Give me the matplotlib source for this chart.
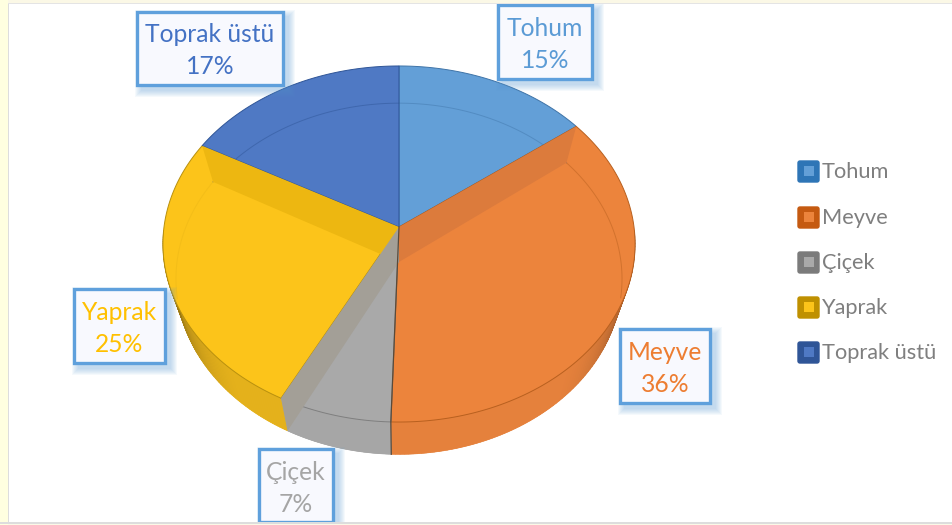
#!/usr/bin/env python3
"""3D style pie chart - bitki kisimlari"""
import numpy as np
import matplotlib
matplotlib.use("Agg")
import matplotlib.pyplot as plt
from matplotlib.colors import to_rgb
from matplotlib.patches import Polygon, Rectangle, FancyBboxPatch

categories = ["Tohum", "Meyve", "Çiçek", "Yaprak", "Toprak üstü"]
values = [14.7, 35.8, 7.1, 25.4, 17.0]

top_colors = ["#639FD7", "#EC843C", "#A9A9A9", "#FCC41A", "#4F79C4"]
wall_colors = ["#5A8FC2", "#DC7B3C", "#A39F97", "#EDB711", "#4A6FB5"]
front_colors = ["#5A8FC2", "#E5813C", "#A6A6A6", "#E4B11C", "#4A6FB5"]
edge_colors = ["#3F74A8", "#B8601F", "#7F7F7F", "#B8900F", "#2F5597"]
ring_alpha = [0.45, 0.5, 0.3, 0.12, 0.5]
legend_dark = ["#2E75B6", "#C55A11", "#7B7B7B", "#BF9000", "#2F5597"]
label_colors = ["#5B9BD5", "#ED7D31", "#A5A5A5", "#FFC000", "#4472C4"]

# box of each data label: left, top, right, bottom (px)
label_boxes = [(498, 5, 592, 79), (620, 329, 710, 403), (259, 449, 333, 522),
               (74, 289, 165, 363), (137, 12, 283, 85)]
legend_y = [171, 217, 262, 307, 352]

plt.rcParams['font.family'] = ['Lato', 'DejaVu Sans']

fig = plt.figure(figsize=(9.52, 5.25), dpi=100)
ax = fig.add_axes([0, 0, 1, 1])
ax.set_xlim(0, 952)
ax.set_ylim(525, 0)
ax.axis('off')


def project(theta, frac=1.0, bottom=False):
    """Angle clockwise from 12 o'clock -> pixel position with a bit of perspective"""
    u = frac * np.sin(theta)
    v = frac * np.cos(theta)
    w = 1 + 0.0955 * v
    if bottom:
        return 399 + 222 * u / w, 262 - 174 * v / w
    return 399 + 235 * u / w, 227 - 176.4 * v / w


def arc(a, b, frac=1.0, bottom=False):
    t = np.linspace(a, b, 120)
    x, y = project(t, frac, bottom)
    return np.column_stack([x, y])


fracs = np.cumsum([0] + values) / sum(values) * 2 * np.pi
apex_top = np.array([399, 227])
apex_bot = np.array([399, 262])

# bottom disk, seen through the slices
for i in range(len(values)):
    pts = np.vstack([apex_bot, arc(fracs[i], fracs[i + 1], bottom=True)])
    ax.add_patch(Polygon(pts, closed=True, fc=top_colors[i], ec='none', zorder=1))

# outer wall, only the front half shows. Gets darker towards the sides
front_a, front_b = np.pi / 2 + 0.02, 3 * np.pi / 2 - 0.02
for i in range(len(values)):
    a = max(fracs[i], front_a)
    b = min(fracs[i + 1], front_b)
    if b <= a:
        continue
    t = np.linspace(a, b, 90)
    base = np.array(to_rgb(front_colors[i]))
    for t0, t1 in zip(t[:-1], t[1:]):
        upper = np.column_stack(project(np.array([t0, t1])))
        lower = np.column_stack(project(np.array([t1, t0]), bottom=True))
        side = abs(((t0 + t1) / 2 - np.pi) / (np.pi / 2))
        shade = 1 - 0.6 * max(0, side - 0.45) ** 1.5 / 0.55 ** 1.5
        col = tuple(base * shade)
        ax.add_patch(Polygon(np.vstack([upper, lower]), closed=True, fc=col, ec=col,
                             lw=0.4, zorder=2))

# top faces
for i in range(len(values)):
    pts = np.vstack([apex_top, arc(fracs[i], fracs[i + 1])])
    ax.add_patch(Polygon(pts, closed=True, fc=top_colors[i], ec=edge_colors[i],
                         lw=0.7, zorder=3))

# rim of the bottom disk showing through
for i in range(len(values)):
    pts = arc(fracs[i], fracs[i + 1], bottom=True)
    keep = (pts[:, 1] < 300)
    ax.plot(pts[keep, 0], pts[keep, 1], color=edge_colors[i], lw=0.7,
            alpha=ring_alpha[i], zorder=4)

# inner cut walls between slices, gray one has to stay on top of the yellow one
walls = [(3, fracs[4]), (1, fracs[1]), (2, fracs[3])]
for i, ang in walls:
    x0, y0 = project(ang)
    x1, y1 = project(ang, bottom=True)
    pts = [apex_top, (x0, y0), (x1, y1), apex_bot]
    ax.add_patch(Polygon(pts, closed=True, fc=wall_colors[i], ec='none', zorder=4))

# line between Meyve and Cicek
x0, y0 = project(fracs[2])
x1, y1 = project(fracs[2], bottom=True)
ax.plot([399, x0, x1], [227, y0, y1], color="#5a4a3a", lw=0.9, zorder=5)

# data labels with soft shadow
for i, (l, t, r, b) in enumerate(label_boxes):
    for k in range(7, 0, -1):
        ax.add_patch(Rectangle((l + 5 - k, t + 5 - k), r - l + 2 * k, b - t + 2 * k,
                               fc="#5B9BD5", ec='none', alpha=0.06, zorder=6))
    ax.add_patch(Rectangle((l, t), r - l, b - t, fc="#F8F9FE", ec="#5FA0DC", lw=2.4, zorder=7))
    mid = (l + r) / 2
    ax.text(mid, t + 23, categories[i], color=label_colors[i], fontsize=17.7,
            ha='center', va='center', zorder=8)
    ax.text(mid, t + 55, f"{values[i]:.0f}%", color=label_colors[i], fontsize=17.7,
            ha='center', va='center', zorder=8)

# legend
for i, name in enumerate(categories):
    y = legend_y[i]
    ax.add_patch(FancyBboxPatch((798, y - 10), 21, 21, boxstyle="round,pad=0,rounding_size=2",
                                fc=legend_dark[i], ec=legend_dark[i], lw=1, zorder=3))
    ax.add_patch(Rectangle((804, y - 5), 10, 10, fc=top_colors[i], ec='none', zorder=4))
    ax.text(822, y + 1, name, color="#7F7F7F", fontsize=15.7, ha='left', va='center')

# page frame
ax.add_patch(Rectangle((-2, 523), 956, 5, fc="#FBF8E6", ec='none', zorder=9))
ax.add_patch(Rectangle((-2, 521.5), 956, 2, fc="#DDDDDD", ec='none', zorder=10))
ax.add_patch(Rectangle((-2, -2), 956, 4.5, fc="#FBF8E6", ec='none', zorder=9))
ax.add_patch(Rectangle((-2, -2), 9.5, 530, fc="#FFFFE0", ec='none', zorder=9))
ax.add_patch(Rectangle((7.5, 2.5), 1.5, 519, fc="#DDDDDD", ec='none', zorder=10))
ax.add_patch(Rectangle((7.5, 2.5), 946, 1.2, fc="#E4E4E4", ec='none', zorder=10))

fig.savefig("out.png", dpi=100)
